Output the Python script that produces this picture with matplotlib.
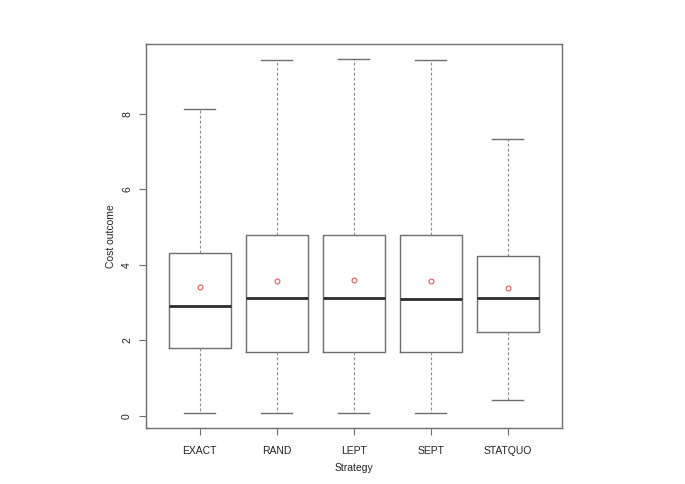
import matplotlib
matplotlib.use("Agg")
import matplotlib.pyplot as plt

# strategy names and summary stats
strategies = ["EXACT", "RAND", "LEPT", "SEPT", "STATQUO"]
whisk_lo = [0.08, 0.08, 0.08, 0.08, 0.42]
q1 = [1.80, 1.70, 1.70, 1.70, 2.23]
medians = [2.91, 3.13, 3.13, 3.10, 3.13]
q3 = [4.32, 4.79, 4.80, 4.79, 4.24]
whisk_hi = [8.13, 9.43, 9.46, 9.43, 7.34]
means = [3.42, 3.58, 3.60, 3.57, 3.39]

plt.rcParams['font.family'] = ['Liberation Sans', 'DejaVu Sans']

fig = plt.figure(figsize=(6.85, 4.84), dpi=100)
ax = fig.add_axes([0.213, 0.116, 0.607, 0.793])

stats = []
for i in range(len(strategies)):
    stats.append(dict(label=strategies[i], whislo=whisk_lo[i], q1=q1[i], med=medians[i],
                      q3=q3[i], whishi=whisk_hi[i], mean=means[i], fliers=[]))

pos = list(range(1, len(strategies) + 1))
ax.bxp(stats, positions=pos, widths=0.8, showmeans=True, showfliers=False,
       boxprops=dict(color="#6e6e6e", linewidth=1.0),
       whiskerprops=dict(color="#8a8a8a", linewidth=0.8, linestyle=(0, (2.5, 2))),
       capprops=dict(color="#6e6e6e", linewidth=1.0),
       capwidths=0.4,
       medianprops=dict(color="#2a2a2a", linewidth=2.0),
       meanprops=dict(marker="o", markerfacecolor="none", markeredgecolor="#e05a5a",
                      markersize=3.5, markeredgewidth=0.8))

ax.set_xlim(0.3, 5.7)
ax.set_ylim(-0.32, 9.85)
ax.set_yticks([0, 2, 4, 6, 8])
ax.set_xticks(pos)
ax.set_xticklabels(strategies)
for lbl in ax.get_yticklabels():
    lbl.set_rotation(90)
    lbl.set_va("center")
ax.tick_params(axis='both', labelsize=7.5, direction='out', length=5, width=0.8,
               color="#6e6e6e", labelcolor="#222222")
ax.tick_params(axis='x', pad=8)
ax.tick_params(axis='y', pad=5)

for s in ax.spines.values():
    s.set_color("#6e6e6e")
    s.set_linewidth(1.0)

ax.set_xlabel("Strategy", fontsize=7.5, labelpad=5, color="#222222")
ax.set_ylabel("Cost outcome", fontsize=7.5, labelpad=4, color="#222222")

fig.savefig("out.png", dpi=100)
